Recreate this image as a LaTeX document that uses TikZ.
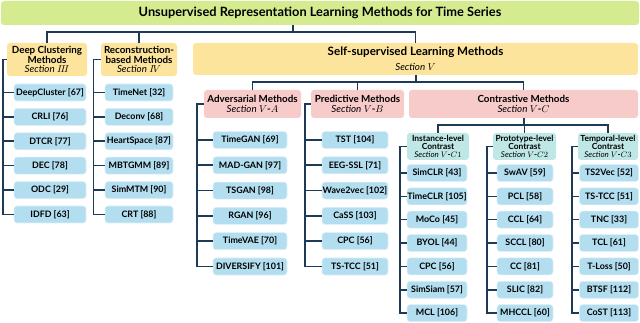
\documentclass[tikz,border=0pt]{standalone}
\usepackage{fontspec}
\setmainfont{Lato}
\usetikzlibrary{calc}
\definecolor{tgreen}{HTML}{D4EB8F}
\definecolor{syellow}{HTML}{FCE49C}
\definecolor{mpink}{HTML}{F8CBCB}
\definecolor{cteal}{HTML}{BFE7E5}
\definecolor{iblue}{HTML}{B3DEEF}
\definecolor{navy}{HTML}{1E3A56}
\newcommand\itemfont{\bfseries\fontsize{8.9}{10}\selectfont}
\newcommand\headfont{\bfseries\fontsize{9.8}{11.5}\selectfont}
\newcommand\subfont{\bfseries\fontsize{8.4}{9}\selectfont}
\newcommand\secl[1]{{\itshape\mdseries Section} #1}
\begin{document}
\begin{tikzpicture}[x=1pt,y=-1pt,
  box/.style={rounded corners=3pt, inner sep=0pt, align=center},
  item/.style={box, fill=iblue, draw=white!55!iblue, line width=0.6pt, minimum height=17pt, font=\itemfont},
  conn/.style={draw=navy, line width=1.6pt}]
\useasboundingbox (0,0) rectangle (640,323);

% title
\node[box, fill=tgreen, minimum width=638pt, minimum height=24pt, font=\fontsize{12.8}{14}\selectfont\bfseries] (title) at (320,13) {Unsupervised Representation Learning Methods for Time Series};

% level 1
\node[box, fill=syellow, minimum width=80pt, minimum height=33pt, font=\headfont] (dc) at (47,59.5)
  {Deep Clustering\\[-1.5pt]Methods\\[-2pt]{\fontsize{9.8}{10}\selectfont\secl{$I\!I\!I$}}};
\node[box, fill=syellow, minimum width=76pt, minimum height=33pt, font=\headfont] (rb) at (139,59.5)
  {Reconstruction-\\[-1.5pt]based Methods\\[-2pt]{\fontsize{9.8}{10}\selectfont\secl{$I\!V$}}};
\node[box, fill=syellow, minimum width=445pt, minimum height=32pt, font=\bfseries\fontsize{11.6}{13}\selectfont] (ss) at (415.5,59)
  {Self-supervised Learning Methods\\[2pt]{\fontsize{9.8}{10}\selectfont\secl{$V$}}};

\coordinate (tj) at (293,32);
\draw[conn] (title.south -| tj) -- (tj);
\draw[conn] (dc.north) -- (dc.north |- tj) -- (ss.north |- tj) -- (ss.north);
\draw[conn] (rb.north) -- (rb.north |- tj);

% level 2
\node[box, fill=mpink, minimum width=97pt, minimum height=28pt, font=\headfont] (adv) at (252.5,104)
  {Adversarial Methods\\[-1.5pt]{\fontsize{9.8}{10}\selectfont\secl{$V$-$A$}}};
\node[box, fill=mpink, minimum width=93pt, minimum height=28pt, font=\headfont] (pred) at (357.5,104)
  {Predictive Methods\\[-1.5pt]{\fontsize{9.8}{10}\selectfont\secl{$V$-$B$}}};
\node[box, fill=mpink, minimum width=229pt, minimum height=28pt, font=\headfont] (con) at (523.5,104)
  {Contrastive Methods\\[-1.5pt]{\fontsize{9.8}{10}\selectfont\secl{$V$-$C$}}};

\coordinate (sj) at (416,82);
\draw[conn] (ss.south -| sj) -- (sj);
\draw[conn] (adv.north) -- (adv.north |- sj) -- (con.north |- sj) -- (con.north);
\draw[conn] (pred.north) -- (pred.north |- sj);

% level 3
\node[box, fill=cteal, minimum width=62pt, minimum height=27pt, font=\subfont] (inst) at (438,146.5)
  {Instance-level\\[-1pt]Contrast\\[-1.5pt]{\fontsize{8}{8}\selectfont\secl{$V$-$C1$}}};
\node[box, fill=cteal, minimum width=63pt, minimum height=27pt, font=\subfont] (proto) at (524.5,146.5)
  {Prototype-level\\[-1pt]Contrast\\[-1.5pt]{\fontsize{8}{8}\selectfont\secl{$V$-$C2$}}};
\node[box, fill=cteal, minimum width=60pt, minimum height=27pt, font=\subfont] (temp) at (608,146.5)
  {Temporal-level\\[-1pt]Contrast\\[-1.5pt]{\fontsize{8}{8}\selectfont\secl{$V$-$C3$}}};

\coordinate (cj) at (524,125);
\draw[conn] (con.south -| cj) -- (cj);
\draw[conn] (inst.north) -- (inst.north |- cj) -- (temp.north |- cj) -- (temp.north);
\draw[conn] (proto.north) -- (proto.north |- cj);

% leaves: deep clustering
\foreach \t [count=\i] in {DeepCluster [67], CRLI [76], DTCR [77], DEC [78], ODC [29], IDFD [63]}
  \node[item, minimum width=72pt] (dc\i) at (50,{92.5+24.4*(\i-1)}) {\t};
\coordinate (dcv) at (3,60);
\draw[conn] (dc.west) -- (dcv |- dc.west) -- (dcv |- dc6.west) -- (dc6.west);
\foreach \i in {1,...,5} \draw[conn] (dcv |- dc\i.west) -- (dc\i.west);

% leaves: reconstruction
\foreach \t [count=\i] in {TimeNet [32], Deconv [68], HeartSpace [87], MBTGMM [89], SimMTM [90], CRT [88]}
  \node[item, minimum width=68pt] (rb\i) at (139,{92.5+24.4*(\i-1)}) {\t};
\coordinate (rbv) at (93.5,60);
\draw[conn] (rb.west) -- (rbv |- rb.west) -- (rbv |- rb6.west) -- (rb6.west);
\foreach \i in {1,...,5} \draw[conn] (rbv |- rb\i.west) -- (rb\i.west);

% leaves: adversarial
\foreach \t [count=\i] in {TimeGAN [69], MAD-GAN [97], TSGAN [98], RGAN [96], TimeVAE [70], DIVERSIFY [101]}
  \node[item, minimum width=74pt] (adv\i) at (250,{140+25.3*(\i-1)}) {\t};
\coordinate (advv) at (197,104);
\draw[conn] (adv.west) -- (advv |- adv.west) -- (advv |- adv6.west) -- (adv6.west);
\foreach \i in {1,...,5} \draw[conn] (advv |- adv\i.west) -- (adv\i.west);

% leaves: predictive
\foreach \t [count=\i] in {TST [104], EEG-SSL [71], Wave2vec [102], CaSS [103], CPC [56], TS-TCC [51]}
  \node[item, minimum width=66pt] (pred\i) at (355,{140+25.3*(\i-1)}) {\t};
\coordinate (predv) at (305,104);
\draw[conn] (pred.west) -- (predv |- pred.west) -- (predv |- pred6.west) -- (pred6.west);
\foreach \i in {1,...,5} \draw[conn] (predv |- pred\i.west) -- (pred\i.west);

% leaves: instance-level
\foreach \t [count=\i] in {SimCLR [43], TimeCLR [105], MoCo [45], BYOL [44], CPC [56], SimSiam [57], MCL [106]}
  \node[item, minimum width=60pt] (inst\i) at (437,{173+23.35*(\i-1)}) {\t};
\coordinate (instv) at (400,147);
\draw[conn] (inst.west) -- (instv |- inst.west) -- (instv |- inst7.west) -- (inst7.west);
\foreach \i in {1,...,6} \draw[conn] (instv |- inst\i.west) -- (inst\i.west);

% leaves: prototype-level
\foreach \t [count=\i] in {SwAV [59], PCL [58], CCL [64], SCCL [80], CC [81], SLIC [82], MHCCL [60]}
  \node[item, minimum width=56pt] (proto\i) at (525,{173+23.35*(\i-1)}) {\t};
\coordinate (protov) at (487,147);
\draw[conn] (proto.west) -- (protov |- proto.west) -- (protov |- proto7.west) -- (proto7.west);
\foreach \i in {1,...,6} \draw[conn] (protov |- proto\i.west) -- (proto\i.west);

% leaves: temporal-level
\foreach \t [count=\i] in {TS2Vec [52], TS-TCC [51], TNC [33], TCL [61], T-Loss [50], BTSF [112], CoST [113]}
  \node[item, minimum width=59pt] (temp\i) at (609,{173+23.35*(\i-1)}) {\t};
\coordinate (tempv) at (572,147);
\draw[conn] (temp.west) -- (tempv |- temp.west) -- (tempv |- temp7.west) -- (temp7.west);
\foreach \i in {1,...,6} \draw[conn] (tempv |- temp\i.west) -- (temp\i.west);
\end{tikzpicture}
\end{document}
